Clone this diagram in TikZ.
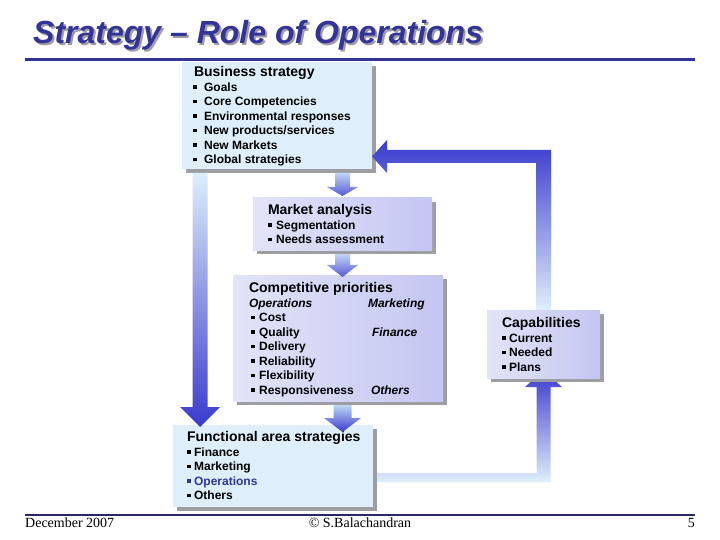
\documentclass[tikz,border=0pt]{standalone}
\usepackage{fontspec}
\setmainfont{Liberation Sans}
\newfontfamily\footfont{Liberation Serif}
\usetikzlibrary{calc, positioning, shadows, backgrounds}

\definecolor{titleblue}{RGB}{51,51,153}
\definecolor{arrowblue}{RGB}{58,58,206}
\definecolor{paleblue}{RGB}{222,239,251}
\definecolor{skyblue}{RGB}{190,214,245}
\definecolor{lavlight}{RGB}{226,228,247}
\definecolor{lavdark}{RGB}{196,198,243}
\definecolor{shadowgray}{RGB}{158,158,162}
\definecolor{footnavy}{RGB}{40,40,100}

% square bullet and bullet with gap
\newcommand{\sqb}{\rule[0.22em]{0.3em}{0.3em}}
\newcommand{\bi}[1][4.5bp]{\sqb\hspace{#1}}
% panel contents: width, height, indent, top gap, text
\newcommand{\panel}[5]{%
  \begin{minipage}[t][#2][t]{#1}%
    \raggedright\leftskip=#3\relax
    \vspace*{#4}%
    \fontsize{12bp}{14.5bp}\selectfont\bfseries #5%
  \end{minipage}}
\newcommand{\head}[1]{{\fontsize{14bp}{14.5bp}\selectfont #1}}
% block arrow pointing down: x ref, start ref, tip ref, shaft half width, head half width, head length, top colour, bottom colour
\newcommand{\blockdown}[8]{%
  \shade[top color=#7, bottom color=#8] let \p1=(#1), \p2=(#2), \p3=(#3) in
    (\x1-#4,\y2) -- (\x1+#4,\y2) -- (\x1+#4,\y3+#6) -- (\x1+#5,\y3+#6)
    -- (\x1,\y3) -- (\x1-#5,\y3+#6) -- (\x1-#4,\y3+#6) -- cycle;}

\tikzset{
  panelbase/.style={anchor=north west, inner sep=0pt, outer sep=0pt,
    drop shadow={shadow xshift=4bp, shadow yshift=-4bp, opacity=1, fill=shadowgray}},
  bluepanel/.style={panelbase, fill=paleblue},
  lavpanel/.style={panelbase, left color=lavlight, right color=lavdark},
  titletext/.style={anchor=base west, inner sep=0pt, font=\fontsize{32bp}{36bp}\selectfont\bfseries\itshape},
  foottext/.style={inner sep=0pt, font=\footfont\fontsize{14bp}{16bp}\selectfont}
}

\begin{document}
\begin{tikzpicture}[x=1bp, y=-1bp]
    \useasboundingbox (0,0) rectangle (720,540);
    \begin{pgfonlayer}{background}
        \fill[white] (0,0) rectangle (720,540);
    \end{pgfonlayer}

    % Title and rules
    \node[titletext, text=shadowgray] (titleshade) at (35,46) {Strategy – Role of Operations};
    \node[titletext, text=titleblue] (title) at (33,44) {Strategy – Role of Operations};
    \draw[titleblue, line width=3bp] (25,60) -- (695,60);
    \draw[footnavy, line width=1.2bp] (25,515) -- (695,515);

    % Panels
    \node[bluepanel] (bus) at (182,62) {\panel{190bp}{107bp}{11bp}{4.8bp}{%
        \head{\hspace{1bp}Business strategy}\\
        \bi[7.5bp]Goals\\
        \bi[7.5bp]Core Competencies\\
        \bi[7.5bp]Environmental responses\\
        \bi[7.5bp]New products/services\\
        \bi[7.5bp]New Markets\\
        \bi[7.5bp]Global strategies}};
    \node[lavpanel] (mkt) at (253,198) {\panel{179bp}{52bp}{15bp}{6.8bp}{%
        \head{Market analysis}\\
        \bi Segmentation\\
        \bi Needs assessment}};
    \node[lavpanel] (comp) at (233,275) {\panel{210bp}{126bp}{16bp}{7.8bp}{%
        \head{Competitive priorities}\\
        \makebox[119bp][l]{\itshape Operations}{\itshape Marketing}\\
        \hspace{2bp}\bi Cost\\
        \makebox[123bp][l]{\hspace{2bp}\bi Quality}{\itshape Finance}\\
        \hspace{2bp}\bi Delivery\\
        \hspace{2bp}\bi Reliability\\
        \hspace{2bp}\bi Flexibility\\
        \makebox[122bp][l]{\hspace{2bp}\bi Responsiveness}{\itshape Others}}};
    \node[bluepanel] (fun) at (173,425) {\panel{200bp}{82bp}{14bp}{6.8bp}{%
        \head{Functional area strategies}\\
        \bi[3.5bp]Finance\\
        \bi[3.5bp]Marketing\\
        {\color{titleblue}\bi[3.5bp]Operations}\\
        \bi[3.5bp]Others}};
    \node[lavpanel] (cap) at (487,310) {\panel{113bp}{68bp}{15bp}{7.8bp}{%
        \head{Capabilities}\\
        \bi[3.5bp]Current\\
        \bi[3.5bp]Needed\\
        \bi[3.5bp]Plans}};

    % Down arrows between panels
    \blockdown{mkt.north}{[yshift=-4bp]bus.south}{[yshift=2bp]mkt.north}{7.5bp}{15.5bp}{9bp}{skyblue}{arrowblue!85}
    \blockdown{mkt.north}{[yshift=-4bp]mkt.south}{[yshift=-2bp]comp.north}{7.5bp}{15.5bp}{12bp}{skyblue}{arrowblue!85}
    \blockdown{mkt.south}{[yshift=-4bp]comp.south}{[yshift=-7bp]fun.north}{9bp}{18.5bp}{14bp}{skyblue}{arrowblue}
    \blockdown{[xshift=18bp]bus.south west}{[xshift=18bp,yshift=-4bp]bus.south west}{[yshift=-2bp]fun.north}{7.5bp}{20bp}{20bp}{paleblue}{arrowblue}

    % Feedback loop: capabilities back to business strategy
    \shade[top color=arrowblue, bottom color=paleblue] let \p1=(cap.north), \p2=([yshift=12.5bp]bus.south east) in
        (\x1-7.5bp,\y1) -- (\x1-7.5bp,\y2-6.5bp) -- (\x2+15bp,\y2-6.5bp) -- (\x2+15bp,\y2-16.5bp)
        -- (\x2,\y2) -- (\x2+15bp,\y2+16.5bp) -- (\x2+15bp,\y2+6.5bp) -- (\x1+7.5bp,\y2+6.5bp)
        -- (\x1+7.5bp,\y1) -- cycle;

    % Feedback loop: functional strategies up to capabilities (behind panels)
    \begin{pgfonlayer}{background}
        \shade[top color=arrowblue, bottom color=paleblue] let \p1=([yshift=-11.5bp]fun.east), \p2=(cap.south) in
            (\x1,\y1+4.5bp) -- (\x2-7bp,\y1+4.5bp) -- (\x2-7bp,\y2-9bp) -- (\x2-18.5bp,\y2-9bp)
            -- (\x2,\y2+8bp) -- (\x2+18.5bp,\y2-9bp) -- (\x2+7bp,\y2-9bp) -- (\x2+7bp,\y1-4.5bp)
            -- (\x1,\y1-4.5bp) -- cycle;
    \end{pgfonlayer}

    % Footer
    \node[foottext, anchor=base west] (date) at (25,527) {December 2007};
    \node[foottext, anchor=base] (author) at (360,527) {© S.Balachandran};
    \node[foottext, anchor=base east] (page) at (695,527) {5};
\end{tikzpicture}
\end{document}
